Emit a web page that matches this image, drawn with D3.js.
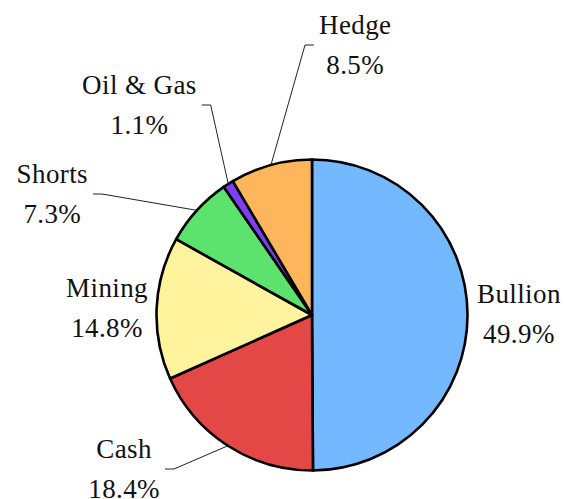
<!DOCTYPE html>
<html>
<head>
<meta charset="utf-8">
<script src="https://cdn.jsdelivr.net/npm/d3@7"></script>
<style>
  html, body { margin: 0; padding: 0; background: #fff; }
  svg { display: block; }
</style>
</head>
<body>
<div id="chart"></div>
<script>
// ---- data ----
const categories = ["Bullion", "Cash", "Mining", "Shorts", "Oil & Gas", "Hedge"];
const values = [49.9, 18.4, 14.8, 7.3, 1.1, 8.5];
const percentLabels = ["49.9%", "18.4%", "14.8%", "7.3%", "1.1%", "8.5%"];
const colors = ["#74b9ff", "#e34846", "#fff39d", "#5be36e", "#7c3ff3", "#ffb55b"];

// ---- layout (label anchor offsets from pie centre, in px; side: 1 = text right of anchor, -1 = left) ----
const labelLayout = {
  "Bullion":   { anchor: [165, -0.5], side: 1,  leader: false },
  "Cash":      { anchor: [-138, 154], side: -1, leader: true },
  "Mining":    { anchor: [-164, -6.5], side: -1, leader: false },
  "Shorts":    { anchor: [-210, -121], side: -1, leader: true },
  "Oil & Gas": { anchor: [-101.3, -210], side: -1, leader: true },
  "Hedge":     { anchor: [-7, -270], side: 1,  leader: true }
};

const W = 564, H = 499;
const cx = 312, cy = 315, R = 155.5;
const fontSize = 27, lineGap = 40, tick = 9, textGap = 5;

const svg = d3.select("#chart").append("svg")
  .attr("width", W).attr("height", H);

const g = svg.append("g").attr("transform", `translate(${cx},${cy})`);

const data = categories.map((c, i) => ({ name: c, value: values[i], pct: percentLabels[i], color: colors[i] }));

const pie = d3.pie().sort(null).value(d => d.value).startAngle(0).endAngle(2 * Math.PI);
const arcs = pie(data);
const arc = d3.arc().innerRadius(0).outerRadius(R);

g.selectAll("path.slice")
  .data(arcs)
  .join("path")
  .attr("class", "slice")
  .attr("d", arc)
  .attr("fill", d => d.data.color)
  .attr("stroke", "#000")
  .attr("stroke-width", 2.6)
  .attr("stroke-linejoin", "round");

// leaders & labels
const labelG = g.append("g");
arcs.forEach(a => {
  const L = labelLayout[a.data.name];
  const mid = (a.startAngle + a.endAngle) / 2;
  const px = Math.sin(mid) * R, py = -Math.cos(mid) * R;
  const [ex, ey] = L.anchor;
  let endX = ex;
  if (L.leader) {
    endX = ex + L.side * tick;
    labelG.append("polyline")
      .attr("points", `${px},${py} ${ex},${ey} ${endX},${ey}`)
      .attr("fill", "none")
      .attr("stroke", "#222")
      .attr("stroke-width", 1);
  }
  const t = labelG.append("text")
    .attr("font-family", "'Liberation Serif', 'Times New Roman', serif")
    .attr("font-size", fontSize)
    .attr("letter-spacing", 0.4)
    .attr("fill", "#111")
    .attr("text-anchor", "middle");
  const b1 = ey - 11.5;
  const s1 = t.append("tspan").attr("y", b1).text(a.data.name);
  const s2 = t.append("tspan").attr("y", b1 + lineGap).text(a.data.pct);
  const w = Math.max(s1.node().getComputedTextLength(), s2.node().getComputedTextLength());
  const edge = endX + L.side * (L.leader ? textGap : 0);
  const centerX = edge + L.side * w / 2;
  s1.attr("x", centerX);
  s2.attr("x", centerX);
});
</script>
</body>
</html>
